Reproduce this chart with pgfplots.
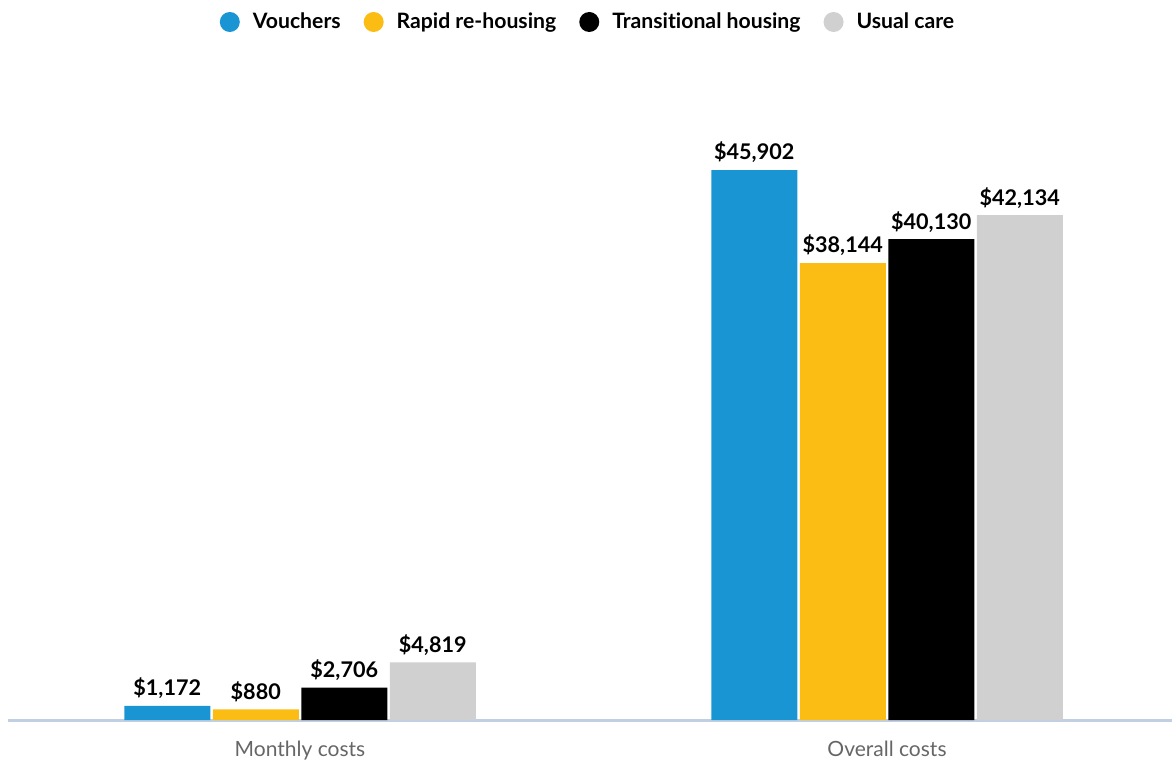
\documentclass[border=0pt]{standalone}
\usepackage{pgfplots}
\pgfplotsset{compat=1.18}
\usepackage{fontspec}
\setmainfont[Ligatures={NoCommon}]{Lato}
\definecolor{cblue}{RGB}{26,149,212}
\definecolor{cyellow}{RGB}{251,188,19}
\definecolor{cgray}{RGB}{208,208,208}
\definecolor{caxis}{RGB}{192,208,226}
\definecolor{ctext}{RGB}{102,102,102}
\begin{document}
\begin{tikzpicture}
\path[use as bounding box] (0,0) rectangle (586pt,380.5pt);
\begin{axis}[
  at={(4pt,20.5pt)}, anchor=south west,
  scale only axis, width=582pt, height=299.5pt,
  xmin=8, xmax=1172, ymin=0, ymax=50000,
  hide y axis,
  axis x line=bottom,
  x axis line style={-, draw=caxis, line width=1.5pt},
  xtick={300,887}, xticklabels={Monthly costs, Overall costs},
  major tick length=0pt,
  xticklabel style={font=\fontsize{10.5}{12}\selectfont, text=ctext, yshift=-7pt},
  ybar, bar width=86,
  /pgf/number format/assume math mode=true,
  /pgf/number format/1000 sep={,},
  nodes near coords={\$\pgfmathprintnumber{\pgfplotspointmeta}},
  nodes near coords style={font=\bfseries\fontsize{10.8}{12}\selectfont, text=black},
  legend style={at={(0.5,1)}, anchor=center, yshift=49.5pt, xshift=-0.5pt, draw=none, legend columns=-1,
    font=\bfseries\fontsize{10.6}{12}\selectfont,
    /tikz/every odd column/.append style={column sep=4.5pt},
    /tikz/every even column/.append style={column sep=9.5pt}},
  legend image code/.code={\fill[#1] (0.2cm,0cm) circle (5pt);},
]
\addplot[fill=cblue, draw=none, bar shift=-132.75] coordinates {(300,1172) (887,45902)};
\addplot[fill=cyellow, draw=none, bar shift=-44.25] coordinates {(300,880) (887,38144)};
\addplot[fill=black, draw=none, bar shift=44.25] coordinates {(300,2706) (887,40130)};
\addplot[fill=cgray, draw=none, bar shift=132.75] coordinates {(300,4819) (887,42134)};
\legend{Vouchers, Rapid re-housing, Transitional housing, Usual care}
\end{axis}
\end{tikzpicture}
\end{document}
